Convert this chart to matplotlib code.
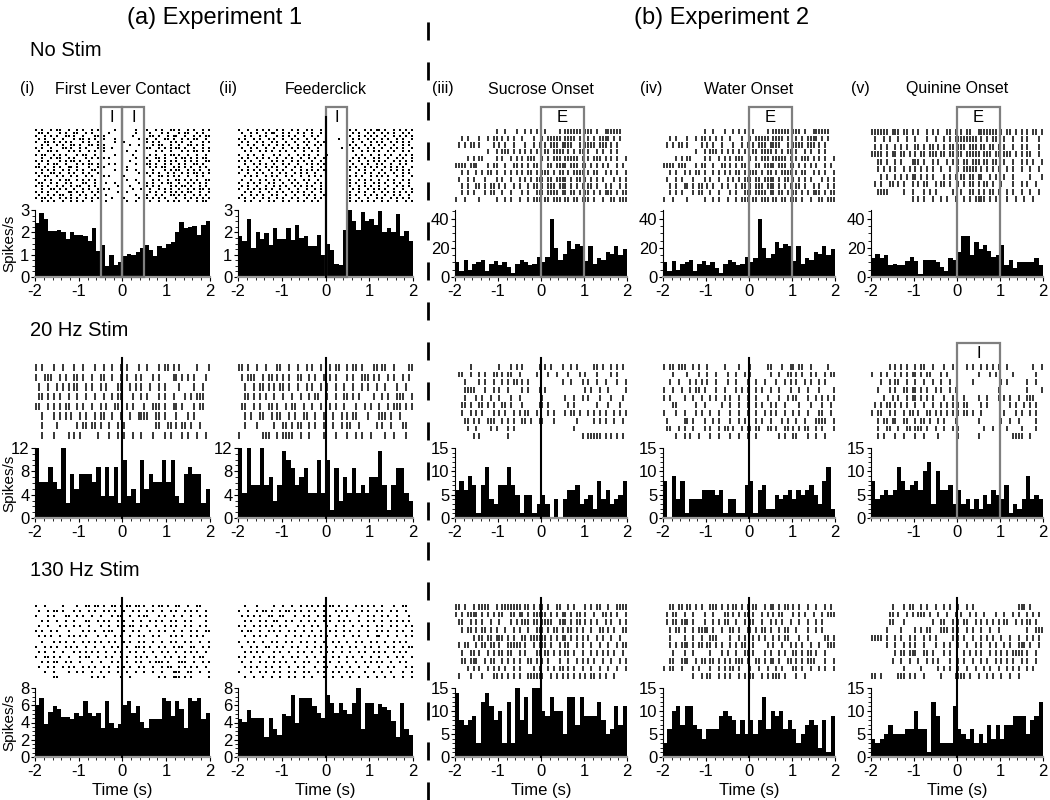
import matplotlib
matplotlib.use('Agg')
import matplotlib.pyplot as plt
import numpy as np
from matplotlib.patches import Rectangle
from matplotlib.lines import Line2D
from matplotlib.transforms import blended_transform_factory
from matplotlib.ticker import AutoMinorLocator, MultipleLocator

plt.rcParams['font.family'] = ['Liberation Sans', 'DejaVu Sans']
plt.rcParams['axes.unicode_minus'] = False

# ---------------- data ----------------
bin_edges = np.round(np.arange(-2.0, 2.05, 0.1), 2)

# Row 1: No Stim
h_nostim_lever = [2.4, 2.85, 2.6, 2.05, 2.05, 2.1, 2.0, 1.7, 2.0, 1.9, 1.9, 1.85, 1.6, 2.2, 1.15,
                  1.45, 0.5, 1.0, 0.55, 0.65, 0.95, 1.05, 1.0, 1.1, 1.3, 1.45, 1.2, 0.95, 1.4, 1.3,
                  1.5, 1.55, 2.0, 2.45, 2.2, 2.25, 2.3, 1.9, 2.35, 2.5]
h_nostim_feeder = [1.85, 1.6, 2.6, 1.3, 2.0, 1.7, 1.95, 1.45, 2.2, 1.7, 1.7, 2.2, 1.65, 2.35, 1.75,
                   1.85, 1.4, 1.4, 1.9, 1.0, 1.5, 1.2, 0.6, 0.55, 2.1, 3.0, 2.5, 2.1, 2.9, 2.5,
                   2.6, 2.35, 2.95, 2.0, 2.2, 2.0, 2.8, 1.85, 2.05, 1.6]
h_nostim_sucrose = [10, 4, 12, 5, 9, 10, 12, 4, 9, 11, 8, 10, 7, 3, 9, 12, 10, 8, 9, 14,
                    10, 14, 40, 20, 12, 16, 25, 19, 23, 21, 11, 21, 9, 13, 12, 17, 16, 21, 15, 19]
h_nostim_water = [10, 4, 11, 5, 9, 10, 12, 4, 9, 11, 8, 10, 6, 3, 9, 12, 10, 8, 9, 14,
                  10, 13, 40, 20, 13, 16, 24, 20, 23, 21, 11, 21, 9, 13, 12, 17, 16, 21, 15, 19]
h_nostim_quinine = [13, 16, 13, 15, 8, 9, 8, 8, 11, 14, 11, 2, 12, 12, 12, 10, 7, 4, 13, 12,
                    17, 28, 28, 15, 24, 19, 22, 18, 14, 15, 22, 8, 12, 6, 10, 10, 10, 10, 13, 8]

# Row 2: 20 Hz Stim
h_20_lever = [12, 6.2, 6.2, 8.8, 6.2, 5.0, 12, 2.5, 7.5, 5.0, 7.5, 7.5, 7.5, 6.2, 8.8, 3.8, 8.8, 3.8, 8.8, 2.5,
              10, 3.8, 5.0, 2.5, 10, 5.0, 7.5, 6.2, 6.2, 10, 6.2, 10, 3.8, 2.5, 7.5, 8.8, 7.5, 7.5, 2.5, 5.0]
h_20_feeder = [12, 4.3, 12, 5.7, 5.7, 12, 5.7, 7.1, 2.9, 5.7, 11.4, 10, 8.6, 5.7, 7.1, 8.6, 4.3, 4.3, 10, 4.3,
               10, 1.4, 8.6, 2.9, 7.1, 4.3, 8.6, 4.3, 5.7, 4.3, 7.1, 7.1, 11.4, 5.7, 1.4, 5.7, 8.6, 8.6, 4.3, 2.9]
h_20_sucrose = [6, 8, 6, 9, 7, 1, 7, 11, 4, 3, 7, 7, 11, 7, 5, 1, 5, 5, 1, 3,
                5, 3, 0, 4, 0, 4, 6, 6, 7, 3, 4, 5, 2, 8, 4, 6, 3, 4, 5, 8]
h_20_water = [8, 0, 9, 4, 8, 1, 4, 4, 4, 6, 6, 6, 5, 6, 1, 4, 4, 1, 1, 7,
              8, 1, 6, 7, 2, 2, 5, 4, 5, 6, 4, 6, 5, 6, 7, 5, 3, 8, 11, 2]
h_20_quinine = [8, 4, 5, 6, 5, 6, 11, 8, 6, 7, 8, 6, 10, 12, 3, 10, 6, 6, 7, 3,
                6, 3, 4, 2, 4, 2, 5, 3, 6, 5, 4, 7, 1, 3, 2, 4, 9, 4, 5, 4]

# Row 3: 130 Hz Stim
h_130_lever = [6.0, 6.8, 3.8, 5.2, 5.9, 5.6, 4.6, 4.6, 4.4, 5.1, 4.8, 6.5, 5.1, 4.8, 5.1, 3.4, 6.5, 4.0, 3.4, 3.8,
               6.0, 6.5, 5.1, 5.9, 4.1, 3.4, 4.4, 4.4, 4.4, 6.8, 6.5, 4.8, 6.5, 5.6, 3.4, 6.8, 6.5, 6.8, 4.4, 5.1]
h_130_feeder = [4.4, 4.1, 5.4, 4.5, 4.5, 4.5, 2.3, 4.5, 3.2, 2.6, 5.0, 4.8, 7.2, 4.0, 6.8, 6.8, 6.8, 5.9, 5.1, 4.5,
                7.2, 6.3, 5.1, 6.3, 5.5, 5.0, 6.3, 8.0, 3.2, 6.3, 6.3, 5.0, 6.1, 5.8, 5.5, 4.2, 2.3, 6.3, 3.2, 2.6]
h_130_sucrose = [14, 8, 7, 8, 9, 3, 12, 14, 11, 8, 10, 3, 12, 3, 15, 8, 13, 5, 15, 15,
                 10, 9, 13, 10, 10, 5, 13, 13, 7, 13, 9, 9, 9, 12, 8, 5, 6, 11, 7, 11]
h_130_water = [3, 6, 10, 11, 7, 11, 11, 7, 6, 4, 6, 6, 6, 9, 10, 9, 8, 5, 8, 5,
               8, 5, 8, 13, 6, 10, 9, 10, 6, 8, 6, 3, 5, 7, 8, 7, 2, 8, 1, 9]
h_130_quinine = [4, 3, 4, 5, 7, 5, 5, 5, 6, 6, 10, 6, 6, 1, 12, 9, 3, 3, 3, 11,
                 6, 5, 4, 6, 3, 5, 3, 7, 4, 7, 4, 7, 7, 9, 9, 9, 5, 8, 9, 12]

# Rasters: each string is one trial, 60 time slots from -2 to 2 s; 'o' = spike
r_nostim_lever = [
    "o.o..o.oo..o..o.o..o.o.....o......o...o..o.o..oo.o..o.o..o.o",
    ".oo.o...o.o..oo..o.o..o..o........o..o.o...o.o...o.oo..o.o..",
    "o..o.o.o..oo.o..o...oo.o.........o.....oo.o..o.oo..o..o.o.oo",
    ".o.o..o..o...o.oo.o.o..o...o.......o..o..o..oo.o..o.o.oo..o.",
    "o..oo.o.o.o.o...o.o..o.....o..o.......o.o.o...o.o.o..o...o.o",
    "..o.o..o.o..oo.o..oo.o.o........o..o.o..o.oo..o..o..oo.o.o..",
    "o.o..o...oo.o..o.o...o.o..o...........oo..o.o.o.oo.o..o..o.o",
    ".o..oo.o...o.o.o..o.o..o.......o..o..o...o.o..o...o.o.oo.o.o",
    "o.oo..o.o.o...o.oo..o.o....o.....o...o.o.o..o.oo.o..o..o..o.",
    "..o..o.oo..o.o...o.o.o.o.o........o...o..oo.o...o.oo.o.o.oo.",
    "o.o.o...o.o.oo.o..o...o.........o....o.o..o.o.o.o..o.o.o..oo",
    ".o..o.oo..o...o.o.oo.o...o.o......o...oo.o..o.o..o.o..oo.o..",
    "oo.o..o.o..oo.o...o..o.o.......o.......o.o.oo..o.o.o.o..o.o.",
    "..o.o.o..o.o..o.o..oo.o....o...o..o..o..o...o.o.oo..o.o.o..o",
    "o.o..oo.o..o.o..o.o..o.............o..o.o.o..o.o..o.o.oo.o.o",
    ".o.oo..o.o..o.o..o.o..oo.o....o......o.o..oo.o.o.o..o..o.o..",
    "o..o.o..o.oo..o.o.o.o..........o..o..o..o.o..o..oo.o.o.o..oo",
    ".oo..o.o..o.o...oo..o.o.o..o.......o..o.o..o.oo..o..o.o.o.o.",
    "o.o.o..o.o..o.oo..o.o.......o...o.....o.o.o...o.o.oo.o..o.o.",
    "..o..oo.o.o..o..o.o..o.o.o.......o..o..o..o.o.o..o..o.o.oo.o",
    "o.o.o..o...oo.o.o..o.o......o..o.....o.o.o..o.o.o.o.oo..o..o",
    ".o..o.o.oo..o..o.o..o.o.o.........o...o..o.o..oo.o.o..o.o.o.",
    "o.oo.o..o.o.o.o..o.o.o....o...o....o..o.o.o.o...o..o.o.o.o.o",
    "..o.o.o..o..o.o.o..o..o.o......o..o..o.o..o..o.o.o..o..o.oo.",
]
r_nostim_feeder = [
    "o..o..o.o.o..o.o..o.o..o.o..o.........o.o..o.o.oo.o..o.o.o.o",
    ".o..o.o..o.oo..o.o..o.o..o..o..........o.o..o.o..o.o.o..o.o.",
    "..o.o..o.o...o.o.o.o..o..o.o..........o..o.o.o.o..o..o.o.o.o",
    "o.o..o.o..o.o..o..o.o..o..o.......o....o.o..o.o..o.o..o.o..o",
    ".o.o..o.o..o.o..o..o..o.o..o.o.........o..o..o.o.o..o.o.o.o.",
    "o..o.o..o.o..o.o.o..o..o..o.o.........o.o..o.o..o.o..o..o.o.",
    ".o..o.o..o..o..o..o.o.o.o..o.......o...o.o..o.o..o..o.o.o..o",
    "..o.o..o.o.o..o.o..o..o..o.o...........o..o.o.o.o..o.o..o.o.",
    "o..o.o..o...o.o..o..o.o.o..o..o.........o.o..o..o.o.o..o.o.o",
    ".o.o..o.o.o..o..o.o..o..o.o..o.........o.o.o..o.o..o..o.o..o",
    "o.o.o..o...o.o.o..o.o.o..o..o.........o..o..o.o.o.o..o.o.o.o",
    "..o..o.o.o..o..o.o..o..o.o.o.o.......o.o..o.o..o.o..o..o.o..",
    "o..o..o..o.o.o..o..o.o...o..o.........o.o..o.o.o..o.o.o.o..o",
    ".o.o.o.o..o..o.o..o..o.o.o.o.o........o..o.o..o..o..o.o.o.o.",
    "o..o..o.o..o..o.o..o.o.o..o..........o..o..o.o..o.o..o..o.o.",
    "..o.o.o..o.o.o..o.o..o..o.o.o.........o.o.o..o.o.o.o..o.o..o",
    ".o..o..o.o..o.o..o.o..o.o..o..........o..o.o.o..o..o.o..o.o.",
    "o..o.o.o..o.o..o..o.o..o..o.o.........o.o..o..o.o.o..o.o..o.",
    ".o.o..o..o..o.o.o..o.o.o.o..o.........o..o.o.o..o..o..o.o.o.",
    "o..o.o.o.o.o..o..o..o..o..o.o..........o.o..o.o.o.o..o..o..o",
    "..o.o..o..o..o.o..o.o.o..o..o.........o..o.o..o..o.o.o.o.o.o",
    ".o..o.o.o..o.o..o..o..o.o.o..o........o.o..o.o.o..o..o.o..o.",
    "o.o..o..o.o..o.o..o.o..o..o.o.........o..o..o..o.o..o.o.o.o.",
    "..o.o..o..o.o..o.o..o.o..o.o..........o.o.o.o.o..o.o..o..o.o",
]
r_nostim_sucrose = [
    "..............o..o...o..o.o.o..o....o.oooooo.ooo.o..oooooo.",
    "..o.o...o..o.oo.o.o.o..o...o..o.ooooo.oooo.o..o.o.oooo.o.o..",
    ".o.o.oo.o....o.o.o..o...o..o.o.o.ooo.oooo..o.oooo.ooo.o.o...",
    "...........o..o.ooo.o.o.o.o.o..oo.oooo.o.o.oo.o..o.o..o.o...",
    "....o.o.oo....o.o..o.o.o.ooo..o.o.ooo.ooooo.o.o.ooo.o.o.o..o",
    "oooo.ooo...o.oo..o..oo.o.o.oo...oo.oooo.ooo.oo.o.o.o.o..o.o.",
    "..o.o..o.o.oo.o..o.o.o.o.oo.o.ooo.o.oo.o.oooo.o.oo..o.o.o..o",
    ".o..o.o...o...o.o..o..o.o.o.ooo.oo.oooo.o.oo.o.o.o.o...o.o.o",
    "..o.o..oo.o.oo.o.o..o.o..o.oo.o.ooo.ooo.o.o.o.oo.o..o.o..o.o",
    "..o.o.o...o.oo..o..o...o.o..ooo.oooo.oo.oo.o.oo.o.o.ooo.o.oo",
    "o..o....o.....o..o.o..o..o.ooo.oo.ooo.oo.oo.ooo.o..o..oo.ooo",
]
r_nostim_quinine = [
    "oooooo.ooo.oo.o.o..o.o.o..oo.o.o.oo..ooooooo.o.oo.o.o.o.oo.o",
    ".o..o.o..o..o..o...o..o..o.o.oooooooo.o.o.oo..o..o..o.o...o.",
    ".o.o.o..o.o.o..oo.o.oo.o.o.oo.ooo.ooo.oo.oo.o.o..o..o.o...o.",
    "oooo.o.oo.oo.o.o.oo.ooo.oo.oo.oo.ooooo.ooo.oo.ooo.o.o.oo..o.",
    "..oo.o..o.o...ooo.o..o.o..o.o.o.oo.ooo.oo.oo..o..o..o.o.o..o",
    "..o.o.o.o..o.o.o.o.o.o..o..o..o.ooooo.o.o.o.o..o.o..o..o..o.",
    "...o.o..o.o.o.oo.o.o.o...o.o.o.oo.oo.oo..o.o..o..o.....o...o",
    ".o.o..oo.o.o..o.o.oo..o.oo.o..o.o.oo.o.oo.o..o...o..o.o..o..",
    "..oooo.....o..o...o.o.o.....o..o..oo.o.o.oo.o..o.o..o..o..o.",
    "..............o.o.o..o..o.o..o..o.o.oooo.o.o...o..o..o..o...",
]
r_20_lever = [
    "o.o...o..o...o..o...o..o..o..o.o...o..o...o.oo.o.o.....o...o",
    "o..ooo..o.o..oo.o..o..oo..o..o.o..o.o...o.o....oo.o.o.o...o.",
    ".o..o..o.o.o.oo..o.o..o.o...oo..o.o.o..o..o.o....o....o..o..",
    ".oo.o.o.o..o..o..o..o..o..o.oo...o..o.o...o.o..o...o.o.ooo..",
    "oo..o.o.o.oo..o.o..o..o.o..oo..o.o...o..ooo.o..oo.o...o.oo..",
    "..o...o.o.o.o..o.o..o.oo..o..o..o..oooo..oo.o...o...o.o.....",
    "..o....o......o.oo.oo.o..o..o.o..........oo..oo.o.oo.o..o...",
    "..o...o....o.o.o.....o...o..o.o..o..o...o...o.o...o.o..o..o.",
]
r_20_feeder = [
    "oo.o..o..o...oo..o..o..o.o..o..o.oo..o.oo.o...oo.oo..o....oo",
    ".o.ooo..o.oo.o.o.o..oo..o.o..o.o.o...o.o..ooo.o.o..o.o..o.o.",
    "..o..o.oo.o.o.oo.o..o..o.o..o.o..o..o..o..o.o..o..o...o..o..",
    "..oo.o.o.o..o..o..o..o..o.oo..o..o..oo.o.o....o..o.o..ooo..o",
    ".oo..o.o..oo.o..o.oo..o..o..o..o.o..o...o..o.o..o..o.ooo.o.o",
    "..o.o..oo..o.oo..o.o..oo..o..o..o..o.o.oo...o...ooo.o..o....",
    "..o...o.....o..oo.o.oo..o.o..o..o..o.oo..o.....o.o..o...oo..",
    "o.......ooo..o.oooo..o..o....o...o...o..o.o..o....o..o...o..",
]
r_20_sucrose = [
    ".....o.........o...o.o.o.....o.o.o...o..o.o.....oo.o..o.o.o.",
    ".oo..o..o.o..oo.o.oo..o.....o...o..o...o...o.o...o....o.o...",
    "...o....o.o..o..o.o.oo.o.o...........o..o...o.o..o..o...o..o",
    "...oooo...o..o.o..o....o.o...o.o.............o.o..o..o.....o",
    "...o...o.o..o..o...o..o.......o.......o..o..o.o...o...o...o.",
    "..oo.o..oo.o.o..oo.o...o.....oo.o......o.o.......o...o...o..",
    "..o..o.o.o...o.o.o..o.o.oo..o...o.o...o.oo.o..o.o.o.o..o.o.o",
    "...oo.o.o..ooo..o.o.o..oo.o..oo...o.......o.....o.o.o..o..o.",
    "....o..o....o.o...o.o....................o..................",
    "......o.o.........o.........................o.ooooo.o.o.o.o.",
]
r_20_water = [
    "o.oo.ooo..o.o..o.....o....o...o.....oo...o..oo.oo..o.....o..",
    "...o....o...o..o..o...o..o..o.o......o..o..oo.o.o..o.o..o.oo",
    "..o..o...o.o.o.o..o...o..o...o..o..o...o..o.o.o..o.o..o.o...",
    "o..o..o..o.oo.o...o..o...o.o.o..o.o..o..o...o..o..o...o....o",
    "o.o....o..o..o..o.o..o.o..o..o..o...o...o..o.oo...o..o.o.o.o",
    "...oo......o..o.....o..o..o..o..o.o..o.o..o....o...o...o..o.",
    "o...o..o...o.o..o..o...o..o..o..o..o.o.o..o..o.o..o...oo..o.",
    ".o.....oo.o...o..o.o...o..o.o...o.o..o...o.o..o..o...oooo..o",
    ".oo..o.o..o...o.o..o.oo.o..o.oo.oo..oo.o..oo.o.o.oo..o.o...o",
    "....o..o.o..o...o..o...o..o..o..o.......o.o..oo...o..o..o...",
]
r_20_quinine = [
    "......o.o.o.o..o.oo..o...o..o....o.o..o.o.o.o..o........o..o",
    "o..o.o..o.o.o.oo.o.oo...o.o..........o...o.o.....o.......o..",
    "...o..o.oo..o..o..o..o..o..o.......o.........o.o......o..o..",
    "..o...o.o..oo.oo.o.o..o.o..o.o..............o.........o....o",
    "....o..o.o..o.oo.o.o.o...o..o...o....o..o...o.o.o..o..ooo...",
    ".o.o.oo.o.o.o..o..o..o..o.o.o.o.oo....o.o.......o.o..o.o.o..",
    "o.oo..o.o..o.oo.o..oo.o.o.o.o.o.oo.o..o.......o...o.o..o.o..",
    "..o.oo.oo..oo..o.oo.o..o.o...o.......o.......o..o..o.....o..",
    "..o..oo..o..oo.ooo.o..o..o..o.o........o..o....o....o....o..",
    "..o.o...o..o...o..o....o......o......o...........oooo..o....",
]
r_130_lever = [
    "o..o.....o....o..oo.oo.o..oo.o.oo.oo.o..o.oo.o..oo..o..oo...",
    ".o..o.oo.o...o.o..o.o..o.o.o..o..o.o..o.o..o..o.o..o.o.o..o.",
    "o...o.o...oo..o.o..o..o...o.oo..o..o.oo...o.o..o..o..o..o.o.",
    "..o.o..o..o..o...oo..o.o.o..o.o..o..o..o.o.o..o.o..o.o....o.",
    ".o..o...o.o..o.o..o...o..o..o.o.oo..o.o..o..o.o.o..o.o..o.o.",
    "o.o..o.o...o....o.o.o..o.oo...o..o.o...o..o.o..o..o..o.o..oo",
    ".o.o.o..o..o.o.o.o...o..o..o.o..o..o.o..o.o...o.o.o..o.o.o..",
    "..o...o.o.o..o..o.o.o.o..o.o..o.o..o.o..o..o..o.o..o.o..o..o",
    "o..o.o.o..o.o.o..o..o..o..o.o..o..oo.o.o..o.o..o.oo..oo..o.o",
    ".o.o..o..o...o.o.o.o.o..o..o.o..o.o..o..o..o.o..o..o.o.o..o.",
    "o..oo.o.o..o...o.oo..o..o.o..o.o..o.o.o..o..o.o..o.o..o.oo..",
    "..o.o.oo..o.o..o...o..o...o.o..o..o.o..o.ooo.o...ooo..o..o.o",
    ".o..o.o..o.o.o..o.o.o..o.o..o.o.o..o.o..o..o.oo..o.o.o.o..o.",
    "...o..o....o..o.o..o..o..o..o..o..o..o..o..o...ooo..oo..o..o",
    "......oo...........o.o.o.....o..o.........o.o..ooo.o.o.....o",
]
r_130_feeder = [
    "..o...o.....o..o..o..o.o.o.o.o.oo.o..o..o.o.o.o..o...o..oo..",
    "o..o..o.oo.o..o.oo.o.o..o.o..o...o.o.o.o..o.o..o.o..o.o..o..",
    ".o.o.o.o..oo..oo...o..o.o..o.o.o..o..o...o..o.o..o.o..o...o.",
    "..o.o..o.o..oo..o.o..o..o.o..o.o..o.o.o..o..o.o..o..o.o.o.o.",
    "o.o..o.o.o.o..o.o...o.o..o.o..o..o..o..o..o.o..o.o..o.o..o.o",
    ".o.oo..o..o.o.o..o.o..o..o..o..o.o..o.o..o..o..o.o.o..o.o..o",
    "..o..o.o.o...o..o..o.o..o.o.o.o..o..o..o.o..o..oo..o..o..o.o",
    "o..o.o..o..o.o..o.o..o.o..o..o..o.o..o..o.o..o.o..o..o.o.o..",
    ".o..o.o..oo..o.o..o.o..o..o.o.o..o.o..o.o..o.o..o..o.o..o.oo",
    "..o.o.o.o...o.o..o..o.o..o..o.o.o..o..o..o.o..o.o.o..o.o.o..",
    "o.o..o.o..o.o..o..o.o..o..o..o..o.o..o.o..o..o..o..o..o.o..o",
    ".o..o..o.o..o.o.o..o..o.o..o.o.o..o..o..o..o.o.o.o..o..o.o..",
    "..o.o.o..o.o..o..o..o.o...o..oo..o.o..o..o..o...o..o.o...o.o",
    "o...o..o.o..o.o..o.o..o.o..o.o..o.o..o.o...o..o..o..o...o..o",
    "..o..o..o..o..o..o.o..o..o...o..o..o..o..o..o..o..o..o..o..o",
]
r_130_sucrose = [
    "oo.o..o.oooo..o.ooooooo.oo.o.oo.o..oo..o.o...o.o.oo..o..oooo",
    "o.o.oooo.o.o.o.oo..oo.oo.o.ooooo.o.o.oo.o.oo.o..o..oo.o.o..o",
    ".oo..o.o.o..o..o...o.o.ooo.oo.oooo..ooo.o.oo.o.o.o..o.o..o.o",
    "..o.oo.o.oo.o.o..o..o.o..o..ooo.o.oo.o.oo.o.o..o..oo.o.o..oo",
    "......o.oo.oo.ooo.o.o..oo.oooooo.o.o.oo.o.o.o.o..o.o..o..o..",
    ".o.oo..o.oo.oo.o..ooooo.o..o.ooo.o..o.oo..o.o..o..o..o..o.oo",
    "..o..oo.o..o.o.oo.oo..o.o...oo.oo.o.o.oo.o..o..o.o.o.o.o..o.",
    "..oo.ooo..o.oo..o.o.o.o..oo.o.o.o...o..o..o.o.o.o..o..o..o.o",
    "....o.o.o..o.o.o.o..o.o....o.o..o.o.oo.o.o..o..o..o..o..o..o",
    ".o...o...o...oo.o.o.o.o..oooooo..o.o.o.o.o.o.o.oo.o.o..o....",
]
r_130_water = [
    "..oo.oo.oo.o.o..ooo.o.o.oo.o.o.oo..o.oo.o.oo.o.o..o..o..o.o.",
    ".o.oo..o..o...o..o...oo.o.o.oo.o..o.o.o.oo...o.o.o..o..o.ooo",
    ".o.oo.ooo.o...o..o.o.oo..o..o.oo..o..o.o.o..o..o..o..o.o....",
    "..o.oo.o..o.oooo.o..o..oo.o..oo.o.oo.o..o.oo..o...o..o.o....",
    "..o....o..o..o..ooo....o..o.o..o.o.o..o.o.oo...o..o.....oo.o",
    "..o.o.ooo.o.oo.oo.o.o..o.o.oo..o....o.o..o..o.o.o..o..o..ooo",
    "...o...o..o.....o...o.o..o..oo.o...o.o..o.o..oo.o.oo.o..o...",
    "..oo..ooo..o.oo.oo.o.o.o.ooo.o..oo.o.oo.o..oo.o.o.ooo...o..o",
    "o.oo..o...o.o...o..o.o.oo.o...o..o..o..o.o...oo.o..o..o.o..o",
    "..........o..o.oo..o.o.o..o.o.oo..o.o.ooo.o...o..o..........",
]
r_130_quinine = [
    ".......o...o.oo..o.o..o..o.o..o..o.o...............ooo.o....",
    "......oo.o..o.o.ooo.o..o..o..o.o..o.o..o...o..o..o.o..o.o.o.",
    "......oo...o.........o..oo..o.o.oo..o.o.o.o.o.oo..o.o.oo.o..",
    ".....o....o....o.o.oo...ooo.o.o..o.o..o..o..o.........o..ooo",
    "oooo.o..o.o..o.o..o.o.o.....o.o.o..o..o.o.o..o..o..o..o.o.o.",
    ".....o..o..o.o.o..o...o..o.o..o..o..o.o..o.o..o.o..ooo.o..o.",
    "........o.oo.ooo..oo.o...o.o....o.o.o.o..o.o.o.o.oooo.o..o..",
    ".......o..o..o..o..o.o.o...o..o.o..o..o.o..o.o.o.o..o.o..o..",
    "...........o.....o.....o.o.o..o..o..o..o.o..o..o.o.o..o.o...",
    "oo.o.....ooo.o.o..o.....o....oooo.o..o..o.o..o..o..o........",
]

experiment_titles = ["(a) Experiment 1", "(b) Experiment 2"]
row_titles = ["No Stim", "20 Hz Stim", "130 Hz Stim"]
col_numerals = ["(i)", "(ii)", "(iii)", "(iv)", "(v)"]
col_titles = ["First Lever Contact", "Feederclick", "Sucrose Onset", "Water Onset", "Quinine Onset"]

hists = [[h_nostim_lever, h_nostim_feeder, h_nostim_sucrose, h_nostim_water, h_nostim_quinine],
         [h_20_lever, h_20_feeder, h_20_sucrose, h_20_water, h_20_quinine],
         [h_130_lever, h_130_feeder, h_130_sucrose, h_130_water, h_130_quinine]]
rasters = [[r_nostim_lever, r_nostim_feeder, r_nostim_sucrose, r_nostim_sucrose, r_nostim_quinine],
           [r_20_lever, r_20_feeder, r_20_sucrose, r_20_water, r_20_quinine],
           [r_130_lever, r_130_feeder, r_130_sucrose, r_130_water, r_130_quinine]]
dot_raster = [[True, True, False, False, False],
              [False, False, False, False, False],
              [True, True, False, False, False]]

ylims = [[3, 3, 46, 46, 46], [12, 12, 15, 15, 15], [8, 8, 15, 15, 15]]
yticks = [[[0, 1, 2, 3]] * 2 + [[0, 20, 40]] * 3,
          [[0, 4, 8, 12]] * 2 + [[0, 5, 10, 15]] * 3,
          [[0, 2, 4, 6, 8]] * 2 + [[0, 5, 10, 15]] * 3]
yminor = [[4, 4, 4, 4, 4], [4, 4, 5, 5, 5], [4, 4, 5, 5, 5]]

# analysis windows: (row, col, t0, t1, label)
windows = [(0, 0, -0.5, 0.0, "I"), (0, 0, 0.0, 0.5, "I"), (0, 1, 0.0, 0.5, "I"),
           (0, 2, 0.0, 1.0, "E"), (0, 3, 0.0, 1.0, "E"), (0, 4, 0.0, 1.0, "E"),
           (1, 4, 0.0, 1.0, "I")]
# event markers at t = 0 (row, col)
markers = [(0, 1)] + [(1, c) for c in range(4)] + [(2, c) for c in range(5)]

# ---------------- layout (pixels) ----------------
W, H = 1050, 800
fig = plt.figure(figsize=(W / 100, H / 100), dpi=100)

def fx(px):
    return px / W

def fy(py):
    return 1 - py / H

col_x = [(35, 210), (238, 413), (455, 627), (663, 835), (871, 1043)]
rast_y = [(128, 203), (363, 440), (603, 680)]
hist_y = [(210, 277), (448, 518), (688, 757)]
box_top = [107, 343, 0]
marker_top = [117, 358, 598]


def add_ax(x0, x1, y0, y1):
    return fig.add_axes([fx(x0), fy(y1), (x1 - x0) / W, (y1 - y0) / H])


def to_times(rows):
    out = []
    for r in rows:
        out.append([-2 + (j + 0.5) * 4 / 60 for j, ch in enumerate(r[:60]) if ch != '.'])
    return out


hist_axes = {}
for ri in range(3):
    for ci in range(5):
        x0, x1 = col_x[ci]
        # raster
        axr = add_ax(x0, x1, *rast_y[ri])
        trials = to_times(rasters[ri][ci])
        n = len(trials)
        if dot_raster[ri][ci]:
            for k, tt in enumerate(trials):
                axr.scatter(tt, [k] * len(tt), marker='s', s=1.0, color='black', linewidths=0)
        else:
            axr.eventplot(trials, lineoffsets=list(range(n)), linelengths=0.75,
                          colors='black', linewidths=1.1)
        axr.set_xlim(-2, 2)
        axr.set_ylim(n - 0.5, -0.5)
        axr.axis('off')

        # histogram
        axh = add_ax(x0, x1, *hist_y[ri])
        axh.stairs(hists[ri][ci], bin_edges, fill=True, color='black', baseline=0)
        axh.set_xlim(-2, 2)
        axh.set_ylim(0, ylims[ri][ci])
        axh.set_yticks(yticks[ri][ci])
        axh.yaxis.set_minor_locator(AutoMinorLocator(yminor[ri][ci]))
        if ri == 1 and ci == 4:
            axh.set_xticks([-1, 0, 1, 2])
        else:
            axh.set_xticks([-2, -1, 0, 1, 2])
        axh.xaxis.set_minor_locator(MultipleLocator(0.2))
        for s in ['top', 'right']:
            axh.spines[s].set_visible(False)
        axh.spines['left'].set_linewidth(0.8)
        axh.spines['bottom'].set_linewidth(1.6)
        axh.spines['bottom'].set_color('#9a9a9a')
        axh.tick_params(axis='both', which='major', labelsize=12, length=3, width=0.8)
        axh.tick_params(axis='both', which='minor', length=2, width=0.6)
        axh.tick_params(axis='y', pad=1)
        axh.tick_params(axis='x', pad=2)
        if ri == 2:
            axh.set_xlabel('Time (s)', fontsize=12, labelpad=3)
        hist_axes[(ri, ci)] = axh
    # y label for the row (column i)
    yc = (hist_y[ri][0] + hist_y[ri][1]) / 2
    fig.text(fx(9), fy(yc), 'Spikes/s', rotation=90, ha='center', va='center', fontsize=11)

# analysis windows (span raster + histogram)
for ri, ci, t0, t1, lab in windows:
    axh = hist_axes[(ri, ci)]
    tr = blended_transform_factory(axh.transData, fig.transFigure)
    bottom = hist_y[ri][1]
    top = box_top[ri]
    rect = Rectangle((t0, fy(bottom)), t1 - t0, (bottom - top) / H, transform=tr,
                     fill=False, edgecolor='#7f7f7f', linewidth=1.6, clip_on=False, zorder=5)
    fig.add_artist(rect)
    fig.text((t0 + t1) / 2, fy(top + 11), lab, transform=tr, ha='center', va='center',
             fontsize=12)

# event markers at t = 0
for ri, ci in markers:
    axh = hist_axes[(ri, ci)]
    tr = blended_transform_factory(axh.transData, fig.transFigure)
    fig.add_artist(Line2D([0, 0], [fy(hist_y[ri][1]), fy(marker_top[ri])], transform=tr,
                          color='black', linewidth=1.5, zorder=6))

# texts
fig.text(fx(215), fy(18), experiment_titles[0], ha='center', va='center', fontsize=17)
fig.text(fx(722), fy(18), experiment_titles[1], ha='center', va='center', fontsize=17)
for ri, yy in enumerate([50, 330, 570]):
    fig.text(fx(30), fy(yy), row_titles[ri], ha='left', va='center', fontsize=14.5)
for ci in range(5):
    x0, x1 = col_x[ci]
    fig.text(fx((x0 + x1) / 2), fy(89), col_titles[ci], ha='center', va='center', fontsize=11.5)
    fig.text(fx(x0 - 1), fy(89), col_numerals[ci], ha='right', va='center', fontsize=11.5)

# dashed divider between experiments
fig.add_artist(Line2D([fx(428), fx(428)], [0, 1], color='black', linewidth=2,
                      linestyle=(0, (6.5, 7.9))))

fig.savefig('out.png', dpi=100, facecolor='white')
